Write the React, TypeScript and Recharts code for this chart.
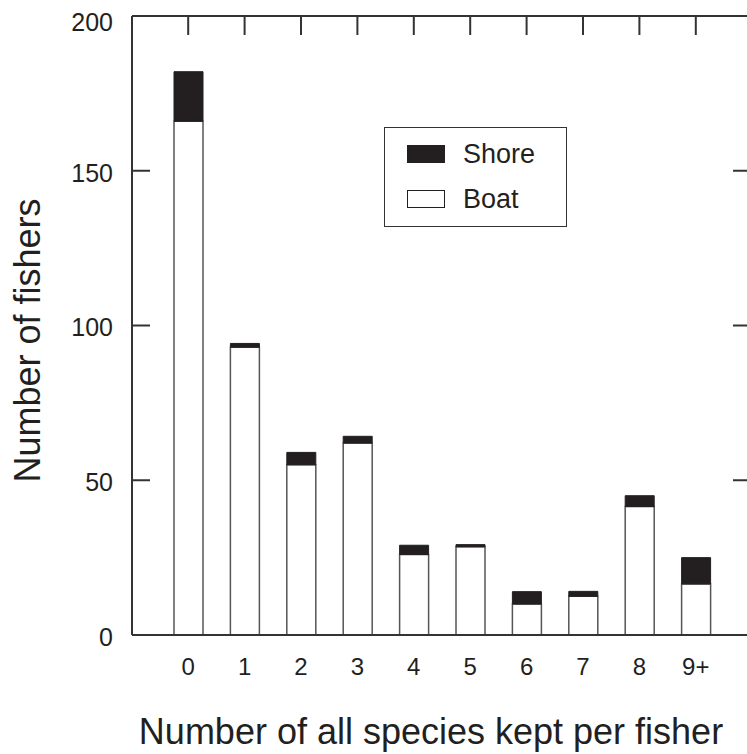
import { Bar, BarChart, Legend, XAxis, YAxis } from 'recharts';

const categories = ['0', '1', '2', '3', '4', '5', '6', '7', '8', '9+'];
const boatValues = [166, 93, 55, 62, 26, 28.5, 10, 12.5, 41.5, 16.5];
const shoreValues = [16, 1.2, 4, 2.2, 3, 0.7, 4, 1.6, 3.5, 8.5];
const yTicks = [0, 50, 100, 150, 200];

const data = categories.map((cat, i) => ({
  cat,
  boat: boatValues[i],
  shore: shoreValues[i],
}));

const INK = '#231f20';
const AXIS = '#333333';
const FONT = '"Liberation Sans", Arial, Helvetica, sans-serif';
const blank = () => '';

// y labels sit a touch below their ticks in the original, the top one more so
function YTick({ x, y, payload }: any) {
  const nudge = payload.value === 200 ? 6 : 2;
  return (
    <text
      x={x}
      y={y + nudge}
      dy="0.355em"
      textAnchor="end"
      fontSize={25}
      fontFamily={FONT}
      fill={INK}
    >
      {payload.value}
    </text>
  );
}

function LegendBox() {
  const items = [
    { label: 'Shore', fill: INK },
    { label: 'Boat', fill: '#ffffff' },
  ];
  return (
    <div
      style={{
        position: 'relative',
        width: 183,
        height: 100,
        border: `1px solid ${AXIS}`,
        boxSizing: 'border-box',
        background: '#fff',
        fontFamily: FONT,
        color: INK,
      }}
    >
      {items.map((item, i) => (
        <div key={item.label}>
          <div
            style={{
              position: 'absolute',
              left: 22,
              top: 17 + i * 45,
              width: 38,
              height: 18,
              background: item.fill,
              border: `1px solid ${INK}`,
              boxSizing: 'border-box',
            }}
          />
          <div
            style={{
              position: 'absolute',
              left: 78,
              top: 10 + i * 45,
              fontSize: 27,
              lineHeight: '32px',
            }}
          >
            {item.label}
          </div>
        </div>
      ))}
    </div>
  );
}

export default function App() {
  return (
    <div
      style={{
        position: 'absolute',
        left: 0,
        top: 0,
        width: 747,
        height: 754,
        overflow: 'hidden',
        background: '#fff',
      }}
    >
      <BarChart
        width={756}
        height={754}
        data={data}
        barSize={29}
        margin={{ top: 16, right: 4, bottom: 0, left: 0 }}
      >
        <XAxis
          xAxisId="bottom"
          dataKey="cat"
          height={119}
          padding={{ left: 28, right: 28 }}
          tickLine={false}
          tickSize={6}
          tickMargin={17}
          axisLine={{ stroke: AXIS, strokeWidth: 2 }}
          tick={{ fontSize: 24, fill: INK, fontFamily: FONT }}
          label={{
            content: ({ viewBox }: any) => (
              <text
                x={viewBox.x + 299}
                y={viewBox.y + 109}
                textAnchor="middle"
                fontSize={36}
                fontFamily={FONT}
                fill={INK}
              >
                Number of all species kept per fisher
              </text>
            ),
          }}
        />
        <XAxis
          xAxisId="top"
          dataKey="cat"
          orientation="top"
          mirror
          height={30}
          padding={{ left: 28, right: 28 }}
          tickFormatter={blank}
          tickSize={19}
          tickLine={{ stroke: AXIS, strokeWidth: 2 }}
          axisLine={{ stroke: AXIS, strokeWidth: 2 }}
        />
        <YAxis
          yAxisId="left"
          type="number"
          domain={[0, 200]}
          ticks={yTicks}
          width={132}
          tickSize={-18}
          tickMargin={37}
          tickLine={{ stroke: AXIS, strokeWidth: 2 }}
          axisLine={{ stroke: AXIS, strokeWidth: 2 }}
          tick={<YTick />}
          label={{
            content: ({ viewBox }: any) => {
              const x = viewBox.x + 40;
              const y = viewBox.y + viewBox.height / 2 + 15;
              return (
                <text
                  x={x}
                  y={y}
                  transform={`rotate(-90, ${x}, ${y})`}
                  textAnchor="middle"
                  fontSize={36}
                  fontFamily={FONT}
                  fill={INK}
                >
                  Number of fishers
                </text>
              );
            },
          }}
        />
        <YAxis
          yAxisId="rightIn"
          orientation="right"
          type="number"
          domain={[0, 200]}
          allowDataOverflow
          ticks={yTicks}
          mirror
          width={30}
          tickFormatter={blank}
          tickSize={19}
          tickLine={{ stroke: AXIS, strokeWidth: 2 }}
          axisLine={{ stroke: AXIS, strokeWidth: 2 }}
        />
        <Legend
          layout="vertical"
          align="center"
          verticalAlign="middle"
          wrapperStyle={{ left: 384, top: 127, width: 183, height: 100 }}
          content={() => <LegendBox />}
        />
        <Bar
          dataKey="boat"
          name="Boat"
          stackId="a"
          xAxisId="bottom"
          yAxisId="left"
          fill="#ffffff"
          stroke="#555555"
          strokeWidth={1.5}
          isAnimationActive={false}
        />
        <Bar
          dataKey="shore"
          name="Shore"
          stackId="a"
          xAxisId="bottom"
          yAxisId="left"
          fill={INK}
          stroke={INK}
          strokeWidth={1}
          isAnimationActive={false}
        />
      </BarChart>
    </div>
  );
}
